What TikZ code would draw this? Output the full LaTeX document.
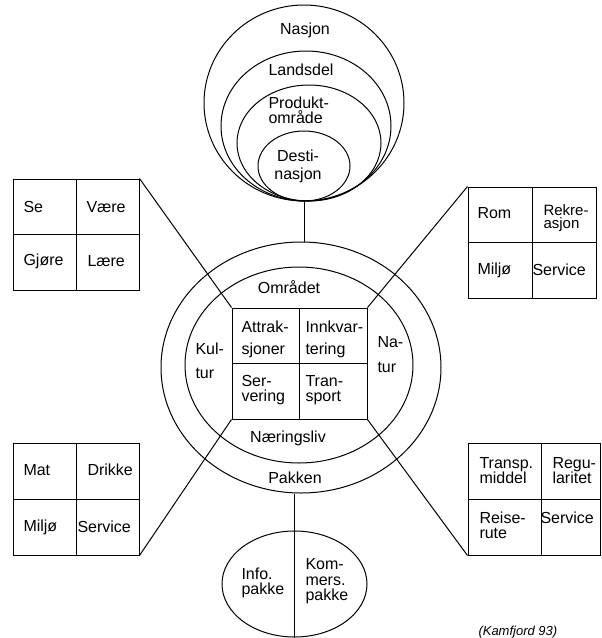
\documentclass[tikz,border=0pt]{standalone}
\usepackage{fontspec}
\setmainfont{Liberation Sans}
\usetikzlibrary{shapes.geometric}
\tikzset{
  tekst/.style={font=\fontsize{16}{#1}\selectfont, align=left, inner sep=0pt, anchor=west},
  tekst/.default=15,
  ring/.style={draw, ellipse, line width=1pt, inner sep=0pt},
  boks/.style={draw, rectangle, line width=1pt, inner sep=0pt}
}
\begin{document}
\begin{tikzpicture}[x=1pt,y=-1pt,line width=1pt]  %1 pt = 1 piksel
  \useasboundingbox (0,0) rectangle (602,638);
		%Sirklene oppe
  \node[ring, minimum width=200, minimum height=196] (nasjon) at (304,103) {};
  \node[ring, minimum width=170, minimum height=150] (landsdel) at (306,126) {};
  \node[ring, minimum width=144, minimum height=116] (produkt) at (309,143) {};
  \node[ring, minimum width=92, minimum height=70] (destinasjon) at (304,166) {};
  \node[tekst, anchor=center] (tnasjon) at (305,30) {Nasjon};
  \node[tekst, anchor=center] (tlandsdel) at (301,70) {Landsdel};
  \node[tekst] (tprodukt) at (268,110.5) {Produkt-\\område};
  \node[tekst=18, anchor=center, align=center] (tdest) at (298,166) {Desti-\\nasjon};
		%Pakken og Området
  \node[ring, minimum width=280, minimum height=251] (pakken) at (301,367.5) {};
  \node[ring, minimum width=228, minimum height=196] (omraadet) at (299,365) {};
  \draw (nasjon.south) -- (nasjon.south |- pakken.north); %Strek ned til pakken
		%Kjernen
  \node[boks, minimum width=135, minimum height=111] (kjerne) at (299.5,363.5) {};
  \draw (kjerne.north) -- (kjerne.south);
  \draw (kjerne.west) -- (kjerne.east);
  \node[tekst, anchor=center] (tomr) at (289,287) {Området};
  \node[tekst=22] (tattr) at (241,339) {Attrak-\\sjoner};
  \node[tekst=22] (tinnk) at (305,339) {Innkvar-\\tering};
  \node[tekst] (tserv) at (241,390.5) {Ser-\\vering};
  \node[tekst] (ttran) at (305,390.5) {Tran-\\sport};
  \node[tekst=24] (tkul) at (195,361) {Kul-\\tur};
  \node[tekst=25] (tnat) at (377,354.5) {Na-\\tur};
  \node[tekst, anchor=center] (tnaer) at (288,438) {Næringsliv};
  \node[tekst, anchor=center] (tpakken) at (295,478) {Pakken};
		%Boks oppe til venstre
  \node[boks, minimum width=126, minimum height=111] (kultur) at (76,234.5) {};
  \draw (kultur.north) -- (kultur.south);
  \draw (kultur.west) -- (kultur.east);
  \node[tekst] (tse) at (23,207) {Se};
  \node[tekst] (tvaere) at (86,207) {Være};
  \node[tekst] (tgjore) at (23,261) {Gjøre};
  \node[tekst] (tlaere) at (87,261) {Lære};
  \draw (kultur.north east) -- (kjerne.north west);
		%Boks oppe til høyre
  \node[boks, minimum width=128, minimum height=111] (natur) at (532,242.5) {};
  \draw (natur.north) -- (natur.south);
  \draw (natur.west) -- (natur.east);
  \node[tekst] (trom) at (477,213) {Rom};
  \node[tekst, font=\fontsize{15}{13.5}\selectfont] (trekr) at (543,218) {Rekre-\\asjon};
  \node[tekst] (tmilj1) at (477,270) {Miljø};
  \node[tekst] (tserv1) at (532,270) {Service};
  \draw (kjerne.north east) -- (natur.north west);
		%Boks nede til venstre
  \node[boks, minimum width=126, minimum height=112] (naering) at (76,499) {};
  \draw (naering.north) -- (naering.south);
  \draw (naering.west) -- (naering.east);
  \node[tekst] (tmat) at (23,470) {Mat};
  \node[tekst] (tdrikke) at (87,470) {Drikke};
  \node[tekst] (tmilj2) at (23,527) {Miljø};
  \node[tekst] (tserv2) at (77,527) {Service};
  \draw (kjerne.south west) -- (naering.south east);
		%Boks nede til høyre
  \node[boks, minimum width=132, minimum height=112] (transport) at (534,499) {};
  \draw ([xshift=7]transport.north) -- ([xshift=7]transport.south);
  \draw (transport.west) -- (transport.east);
  \node[tekst] (ttransp) at (479,470.5) {Transp.\\middel};
  \node[tekst] (tregu) at (552,470.5) {Regu-\\laritet};
  \node[tekst] (treise) at (479,525.5) {Reise-\\rute};
  \node[tekst] (tserv3) at (540,518) {Service};
  \draw (kjerne.south east) -- (transport.south west);
		%Ellipsen nede
  \node[ring, minimum width=145, minimum height=106] (pakke) at (294.5,584) {};
  \draw (pakke.south |- pakken.south) -- (pakke.south); %Strek gjennom ellipsen
  \node[tekst] (tinfo) at (241,582.5) {Info.\\pakke};
  \node[tekst=15.5] (tkom) at (305,581.5) {Kom-\\mers.\\pakke};
  \node[tekst, font=\fontsize{13}{15}\selectfont\itshape] (kilde) at (478,632) {(Kamfjord 93)};
\end{tikzpicture}
\end{document}
